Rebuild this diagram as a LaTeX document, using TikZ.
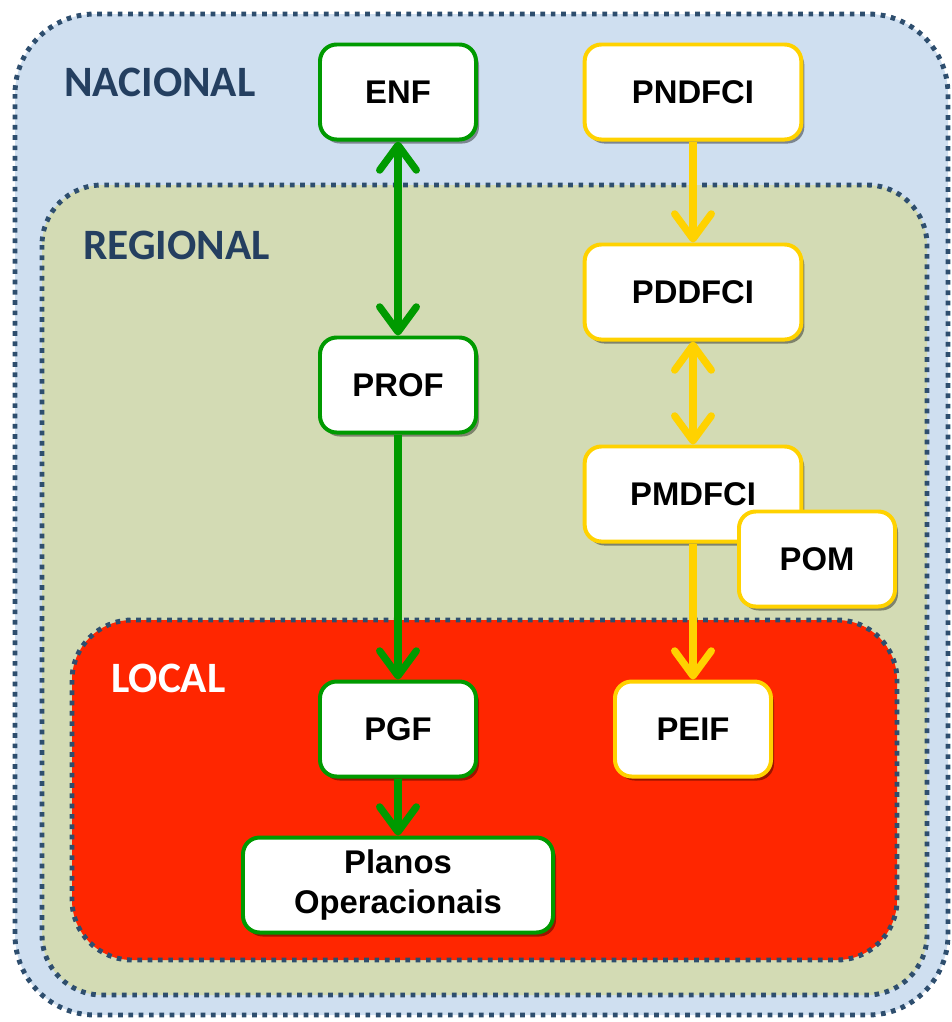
\documentclass[tikz,border=0pt]{standalone}
\usepackage{fontspec}
\setmainfont{Liberation Sans}
\newfontfamily\levelfont{Carlito}
\usepackage{tikz}
\usetikzlibrary{arrows.meta,shadows}

\definecolor{nacfill}{HTML}{CFDFF0}
\definecolor{regfill}{HTML}{D3DBB4}
\definecolor{locfill}{HTML}{FF2600}
\definecolor{zoneline}{HTML}{2E4E6E}
\definecolor{zonetext}{HTML}{243F60}
\definecolor{planogreen}{HTML}{009A00}
\definecolor{planoyellow}{HTML}{FFD200}

\tikzset{
  zone/.style={draw=zoneline, line width=4.2pt, dash pattern=on 4pt off 4.8pt, rounded corners=#1},
  zonelabel/.style={font=\levelfont\fontsize{37}{40}\selectfont\bfseries, anchor=west},
  planbox/.style={draw=#1, fill=white, line width=3.4pt, rounded corners=0.5cm,
    minimum width=4.68cm, minimum height=2.85cm, align=center,
    font=\fontsize{28}{34}\selectfont\bfseries,
    drop shadow={shadow xshift=0.09cm, shadow yshift=-0.12cm, opacity=0.4, fill=black}},
  greenbox/.style={planbox=planogreen},
  yellowbox/.style={planbox=planoyellow},
  planarrow/.style={draw=#1, line width=6.2pt,
    arrows={-Straight Barb[round, length=0.75cm, width=1.1cm]}},
}

\begin{document}
\begin{tikzpicture}[x=0.03cm, y=-0.03cm]
    \useasboundingbox (0,0) rectangle (952,1022);

    % levels
    \draw[zone=2.4cm, fill=nacfill] (15,14) rectangle (948,1015);
    \draw[zone=1.8cm, fill=regfill] (42,185) rectangle (927,995);
    \draw[zone=1.8cm, fill=locfill] (72,620) rectangle (897,960);

    \node[zonelabel, text=zonetext] (nac) at (60,82) {NACIONAL};
    \node[zonelabel, text=zonetext] (reg) at (79,245) {REGIONAL};
    \node[zonelabel, text=white] (loc) at (107,678) {LOCAL};

    % green chain
    \node[greenbox] (enf) at (398,92) {ENF};
    \node[greenbox] (prof) at (398,385) {PROF};
    \node[greenbox] (pgf) at (398,729) {PGF};
    \node[greenbox, minimum width=9.3cm] (planos) at (398,885) {Planos\\Operacionais};

    % yellow chain
    \node[yellowbox, minimum width=6.5cm] (pndfci) at (693,92) {PNDFCI};
    \node[yellowbox, minimum width=6.5cm] (pddfci) at (693,292) {PDDFCI};
    \node[yellowbox, minimum width=6.5cm] (pmdfci) at (693,494) {PMDFCI};
    \node[yellowbox] (pom) at (817,559) {POM};
    \node[yellowbox] (peif) at (693,729) {PEIF};

    \draw[planarrow=planogreen, arrows={Straight Barb[round, length=0.75cm, width=1.1cm]-Straight Barb[round, length=0.75cm, width=1.1cm]}] (enf) -- (prof);
    \draw[planarrow=planogreen] (prof) -- (pgf);
    \draw[planarrow=planogreen] (pgf) -- (planos);

    \draw[planarrow=planoyellow] (pndfci) -- (pddfci);
    \draw[planarrow=planoyellow, arrows={Straight Barb[round, length=0.75cm, width=1.1cm]-Straight Barb[round, length=0.75cm, width=1.1cm]}] (pddfci) -- (pmdfci);
    \draw[planarrow=planoyellow] (pmdfci.south) -- (peif);
\end{tikzpicture}
\end{document}
